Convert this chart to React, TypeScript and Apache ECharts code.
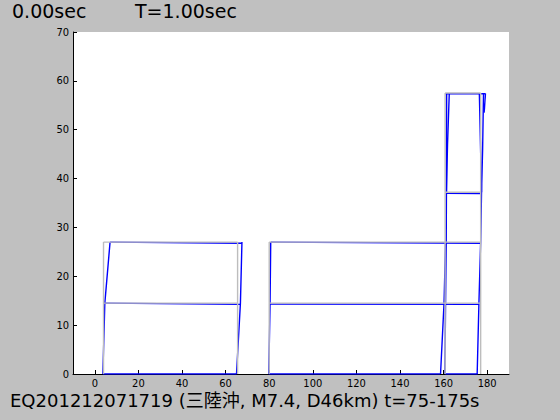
import React, { useEffect, useRef } from "react";
import * as echarts from "echarts";

// Axis ticks
const xTicks = [0, 20, 40, 60, 80, 100, 120, 140, 160, 180];
const yTicks = [0, 10, 20, 30, 40, 50, 60, 70];

// Undeformed frame (gray): columns [x, yBottom, yTop], beams [xLeft, xRight, y]
const grayColumns = [
  [4, 0, 27],
  [65.5, 0, 27],
  [80, 0, 27],
  [160.7, 0, 57.5],
  [177, 0, 57.5],
];
const grayBeams = [
  [4, 65.5, 14.5],
  [4, 65.5, 27],
  [80, 177, 14.5],
  [80, 177, 27],
  [160.7, 177, 37.2],
  [160.7, 177, 57.5],
];

// Deformed frame (blue): polylines of [x, y]
const blueColumns = [
  [[3.7, 0], [4.6, 14.5], [7.0, 27]],
  [[65.0, 0], [66.8, 14.5], [67.5, 27]],
  [[79.8, 0], [80.4, 14.5], [80.7, 27]],
  [[158.6, 0], [160.2, 14.5], [160.9, 27]],
  [[160.6, 0], [160.9, 14.5], [161.2, 27], [161.3, 37.2], [161.4, 57.4]],
  [[161.3, 37.2], [161.8, 47], [162.6, 57.4]],
  [[175.4, 0], [176.2, 14.5], [177.0, 27], [177.4, 37.2], [176.4, 57.4]],
  [[177.4, 37.2], [177.9, 46], [178.3, 57.4]],
  [[178.6, 53.5], [179.2, 57.4]],
];
const blueBeams = [
  [[3.7, 0], [65.0, 0]],
  [[4.6, 14.5], [66.8, 14.25]],
  [[7.0, 27.0], [67.5, 26.75]],
  [[79.8, 0], [158.4, 0]],
  [[160.8, 0], [175.6, 0]],
  [[80.4, 14.3], [176.2, 14.25]],
  [[80.7, 27.0], [177.0, 26.75]],
  [[161.3, 37.0], [177.4, 36.95]],
  [[160.8, 57.35], [179.2, 57.35]],
];

const timeLabel = "0.00sec";
const periodLabel = "T=1.00sec";
const footer = "EQ201212071719 (三陸沖, M7.4, D46km) t=75-175s";

const BLUE = "#0000ff";
const GRAY = "#bdbdbd";
const FONT = "'DejaVu Sans', 'Noto Sans CJK JP', sans-serif";
const TICK_FONT = "'DejaVu Sans Condensed', 'DejaVu Sans', sans-serif";

export default function App() {
  const ref = useRef<HTMLDivElement>(null);
  useEffect(() => {
    if (!ref.current) return;
    const chart = echarts.init(ref.current, undefined, { renderer: "svg" });
    const series: any[] = [];
    blueColumns.concat(blueBeams).forEach((pts) => {
      series.push({
        type: "line",
        data: pts,
        symbol: "none",
        lineStyle: { color: BLUE, width: 1.4 },
        z: 2,
      });
    });
    grayColumns.forEach(([x, y0, y1]) => {
      series.push({
        type: "line",
        data: [[x, y0], [x, y1]],
        symbol: "none",
        lineStyle: { color: GRAY, width: 1.4 },
        z: 3,
      });
    });
    grayBeams.forEach(([x0, x1, y]) => {
      series.push({
        type: "line",
        data: [[x0, y], [x1, y]],
        symbol: "none",
        lineStyle: { color: GRAY, width: 1.4 },
        z: 3,
      });
    });
    chart.setOption({
      animation: false,
      backgroundColor: "#c0c0c0",
      grid: {
        left: 73,
        top: 32,
        right: 51,
        bottom: 46,
        show: true,
        backgroundColor: "#ffffff",
        borderWidth: 0,
      },
      xAxis: {
        type: "value",
        min: -10,
        max: 190,
        splitLine: { show: false },
        axisLine: { show: true, onZero: false, lineStyle: { color: "#000", width: 1 } },
        axisTick: { show: true, inside: true, length: 4, lineStyle: { color: "#000" }, customValues: xTicks },
        axisLabel: {
          color: "#000",
          fontSize: 11,
          fontFamily: TICK_FONT,
          margin: 4,
          customValues: xTicks,
        },
      },
      yAxis: {
        type: "value",
        min: 0,
        max: 70,
        interval: 10,
        splitLine: { show: false },
        axisLine: { show: true, onZero: false, lineStyle: { color: "#000", width: 1 } },
        axisTick: { show: true, inside: true, length: 4, lineStyle: { color: "#000" } },
        axisLabel: {
          color: "#000",
          fontSize: 11,
          fontFamily: TICK_FONT,
          margin: 4,
          customValues: yTicks,
        },
      },
      graphic: [
        {
          type: "text",
          left: 12,
          top: 1,
          style: { text: timeLabel, font: `19px ${FONT}`, fill: "#000" },
        },
        {
          type: "text",
          left: 135,
          top: 1,
          style: { text: periodLabel, font: `19px ${FONT}`, fill: "#000" },
        },
        {
          type: "text",
          left: 10,
          top: 391,
          style: { text: footer, font: `18px ${FONT}`, fill: "#000" },
        },
      ],
      series,
    });
    return () => chart.dispose();
  }, []);
  return (
    <div
      ref={ref}
      style={{ position: "fixed", left: 0, top: 0, width: 560, height: 420, background: "#c0c0c0" }}
    />
  );
}
